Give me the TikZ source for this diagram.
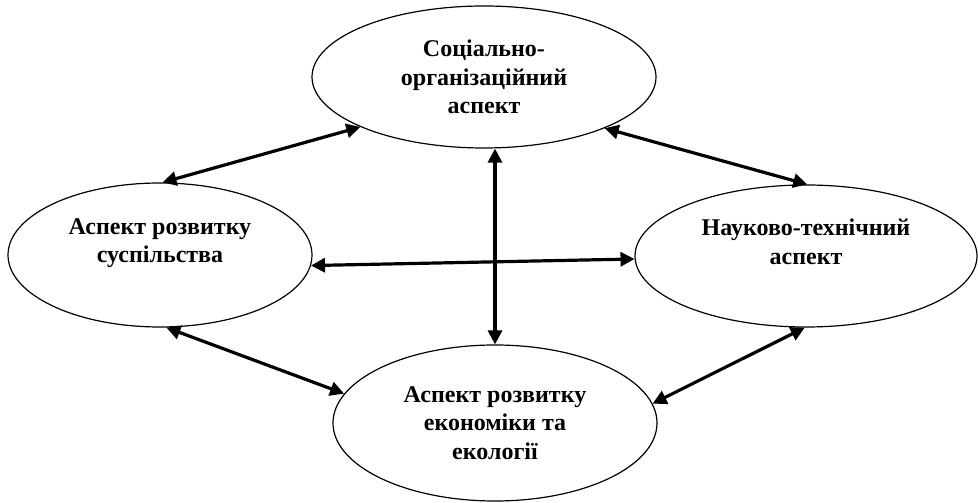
\documentclass[tikz,border=0pt]{standalone}
\usepackage{fontspec}
\setmainfont{Liberation Serif}
\usetikzlibrary{arrows.meta,shapes.geometric}

\begin{document}
\begin{tikzpicture}[x=1pt,y=1pt,
  aspect/.style={ellipse,draw,line width=1.2pt,inner sep=0pt,align=center,
    font=\fontsize{24}{28.5}\selectfont\bfseries},
  link/.style={{Triangle[length=14pt,width=14pt]}-{Triangle[length=14pt,width=14pt]},line width=3.2pt}]
  \useasboundingbox (0,0) rectangle (978,503);
  % four aspects
  \node[aspect,minimum width=344pt,minimum height=142pt] (soc) at (484,426) {Соціально-\\організаційний\\аспект};
  \node[aspect,minimum width=304pt,minimum height=144pt] (susp) at (160,248) {Аспект розвитку\\суспільства\\ };
  \node[aspect,minimum width=342pt,minimum height=142pt] (nauk) at (806,247) {Науково-технічний\\аспект\\ };
  \node[aspect,minimum width=324pt,minimum height=156pt] (ekon) at (495,80) {Аспект розвитку\\економіки та\\екології};
  % links
  \draw[link] (susp.88) -- (soc.202.7);
  \draw[link] (soc.337.5) -- (nauk.89);
  \draw[link] (ekon.north) -- (ekon.north |- soc.south);
  \draw[link] (susp.-4) -- (nauk.181);
  \draw[link] (susp.275.5) -- (ekon.169.6);
  \draw[link] (ekon.7) -- (nauk.269);
\end{tikzpicture}
\end{document}
